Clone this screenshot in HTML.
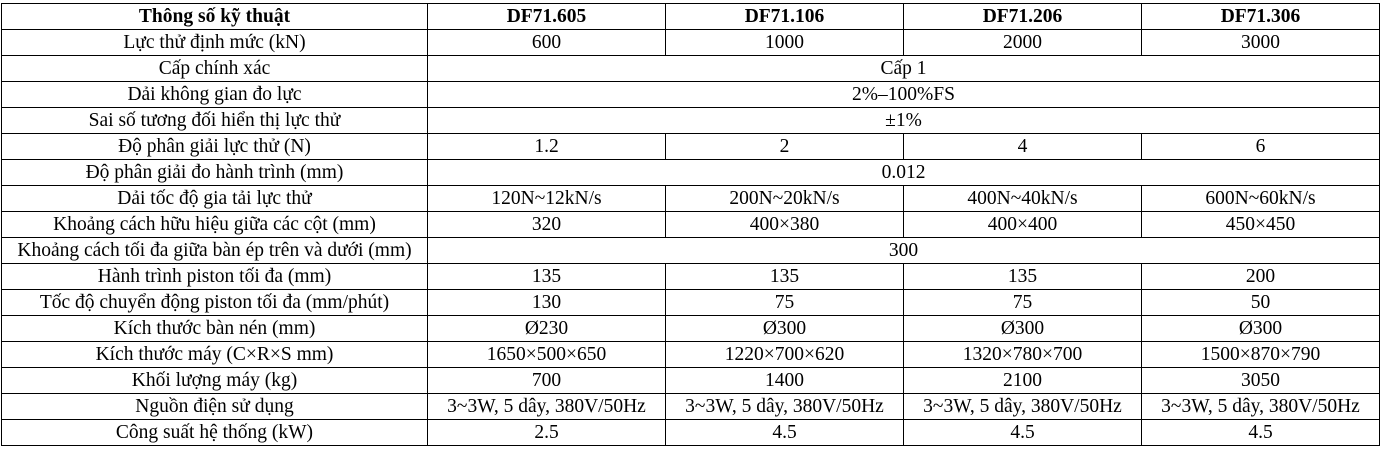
<!DOCTYPE html>
<html><head><meta charset="utf-8"><style>
html,body{margin:0;padding:0;background:#fff;width:1384px;height:452px;overflow:hidden}
table{position:absolute;left:1px;top:3px;border-collapse:collapse;table-layout:fixed;font-family:"Liberation Serif",serif;font-size:19.5px;color:#000}
td{border:1px solid #000;height:25px;padding:0;text-align:center;vertical-align:middle;line-height:25px;white-space:nowrap;overflow:hidden}
tr:first-child td{font-weight:bold}
</style></head><body>
<table>
<colgroup><col style="width:426px"><col style="width:238px"><col style="width:238px"><col style="width:238px"><col style="width:238px"></colgroup>
<tr><td>Thông số kỹ thuật</td><td>DF71.605</td><td>DF71.106</td><td>DF71.206</td><td>DF71.306</td></tr>
<tr><td>Lực thử định mức (kN)</td><td>600</td><td>1000</td><td>2000</td><td>3000</td></tr>
<tr><td>Cấp chính xác</td><td colspan="4">Cấp 1</td></tr>
<tr><td>Dải không gian đo lực</td><td colspan="4">2%–100%FS</td></tr>
<tr><td>Sai số tương đối hiển thị lực thử</td><td colspan="4">±1%</td></tr>
<tr><td>Độ phân giải lực thử (N)</td><td>1.2</td><td>2</td><td>4</td><td>6</td></tr>
<tr><td>Độ phân giải đo hành trình (mm)</td><td colspan="4">0.012</td></tr>
<tr><td>Dải tốc độ gia tải lực thử</td><td>120N~12kN/s</td><td>200N~20kN/s</td><td>400N~40kN/s</td><td>600N~60kN/s</td></tr>
<tr><td>Khoảng cách hữu hiệu giữa các cột (mm)</td><td>320</td><td>400×380</td><td>400×400</td><td>450×450</td></tr>
<tr><td>Khoảng cách tối đa giữa bàn ép trên và dưới (mm)</td><td colspan="4">300</td></tr>
<tr><td>Hành trình piston tối đa (mm)</td><td>135</td><td>135</td><td>135</td><td>200</td></tr>
<tr><td>Tốc độ chuyển động piston tối đa (mm/phút)</td><td>130</td><td>75</td><td>75</td><td>50</td></tr>
<tr><td>Kích thước bàn nén (mm)</td><td>Ø230</td><td>Ø300</td><td>Ø300</td><td>Ø300</td></tr>
<tr><td>Kích thước máy (C×R×S mm)</td><td>1650×500×650</td><td>1220×700×620</td><td>1320×780×700</td><td>1500×870×790</td></tr>
<tr><td>Khối lượng máy (kg)</td><td>700</td><td>1400</td><td>2100</td><td>3050</td></tr>
<tr><td>Nguồn điện sử dụng</td><td>3~3W, 5 dây, 380V/50Hz</td><td>3~3W, 5 dây, 380V/50Hz</td><td>3~3W, 5 dây, 380V/50Hz</td><td>3~3W, 5 dây, 380V/50Hz</td></tr>
<tr><td>Công suất hệ thống (kW)</td><td>2.5</td><td>4.5</td><td>4.5</td><td>4.5</td></tr>
</table>
</body></html>
